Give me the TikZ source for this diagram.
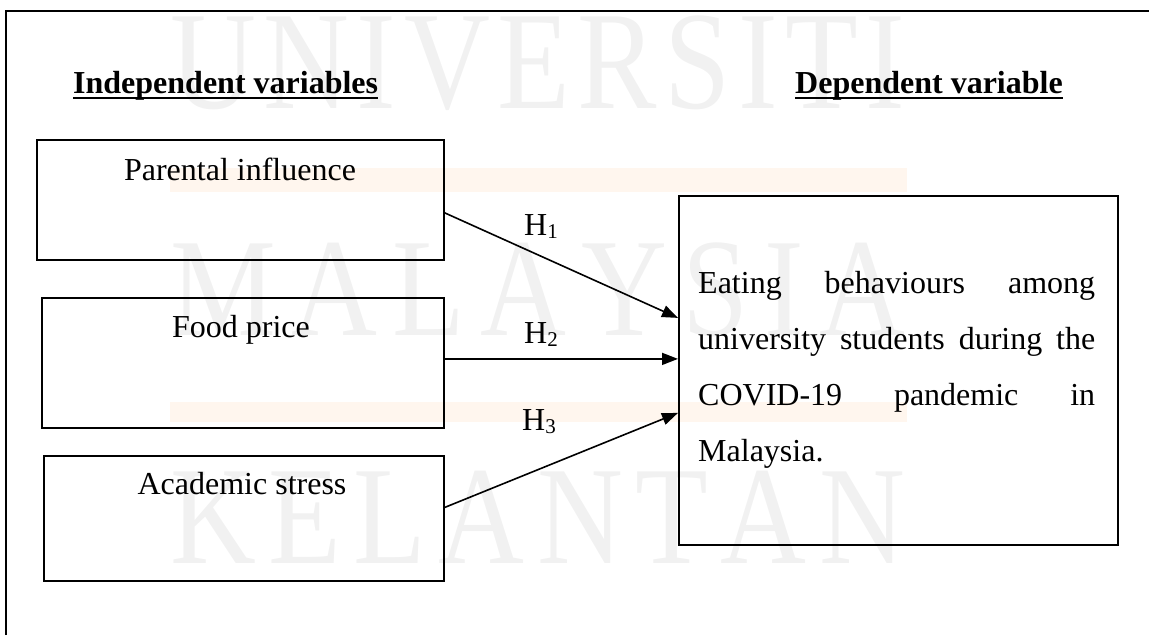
\documentclass[tikz,border=0pt]{standalone}
\usepackage{fontspec}
\setmainfont{Liberation Serif}
\newfontfamily\wmfont{Liberation Serif}[FakeStretch=0.85]
\usetikzlibrary{arrows.meta}
\definecolor{wmgray}{HTML}{F1F1F1}
\definecolor{wmbar}{HTML}{FFF6EE}
\begin{document}
\begin{tikzpicture}[x=1pt,y=-1pt,
  box/.style={draw, line width=1.8pt, inner sep=0pt, anchor=north west},
  lbl/.style={font=\fontsize{32}{38}\selectfont, inner sep=0pt, anchor=base},
  hyp/.style={font=\fontsize{32}{38}\selectfont, inner sep=0pt, anchor=base west},
  hd/.style={font=\fontsize{32}{38}\selectfont\bfseries, inner sep=0pt, anchor=base west},
  uline/.style={line width=2pt},
  arr/.style={line width=1.6pt, -{Triangle[length=16pt,width=12pt]}},
  wmtxt/.style={text=wmgray, font=\wmfont\fontsize{140}{140}\selectfont, inner sep=0pt, anchor=base west},
  frameline/.style={line width=1.8pt}]
\useasboundingbox (0,0) rectangle (1149,635);
% watermark
\fill[wmbar] (170,168) rectangle (907,192);
\fill[wmbar] (170,402) rectangle (907,422);
\node[wmtxt] (w1) at (170,108) {\makebox[735pt]{U\hfill N\hfill I\hfill V\hfill E\hfill R\hfill S\hfill I\hfill T\hfill I}};
\node[wmtxt] (w2) at (170,335) {\makebox[735pt]{M\hfill A\hfill L\hfill A\hfill Y\hfill S\hfill I\hfill A}};
\node[wmtxt] (w3) at (170,563) {\makebox[735pt]{K\hfill E\hfill L\hfill A\hfill N\hfill T\hfill A\hfill N}};
% frame
\coordinate (fbl) at (6,635);
\coordinate (ftl) at (6,11);
\coordinate (ftr) at (1149,11);
\draw[frameline] (fbl) -- (ftl) -- (ftr);
% headings
\node[hd] (hi) at (73,93) {Independent variables};
\draw[uline] ([yshift=-5pt]hi.base west) -- ([yshift=-5pt]hi.base east);
\node[hd] (hdv) at (795,93) {Dependent variable};
\draw[uline] ([yshift=-5pt]hdv.base west) -- ([yshift=-5pt]hdv.base east);
% boxes
\node[box, minimum width=407pt, minimum height=120pt] (p1) at (36,139) {};
\node[box, minimum width=402pt, minimum height=130pt] (p2) at (41,297) {};
\node[box, minimum width=400pt, minimum height=125pt] (p3) at (43,455) {};
\node[box, minimum width=439pt, minimum height=349pt] (dv) at (678,195) {};
\node[lbl] (t1) at (240,180) {Parental influence};
\node[lbl] (t2) at (241,337) {Food price};
\node[lbl] (t3) at (242,494) {Academic stress};
\node[inner sep=0pt, anchor=base west, text width=397pt, align=left,
      font=\fontsize{32}{56}\selectfont] (dt) at (698,293)
  {\makebox[397pt]{Eating\hfill behaviours\hfill among}\\
   \makebox[397pt]{university\hfill students\hfill during\hfill the}\\
   \makebox[397pt]{COVID-19\hfill pandemic\hfill in}\\
   Malaysia.};
% arrows
\coordinate (s1) at ([yshift=-13pt]p1.east);
\coordinate (s2) at ([yshift=4pt]p2.east);
\coordinate (s3) at ([yshift=11pt]p3.east);
\coordinate (e1) at ([yshift=52.5pt]dv.west);
\coordinate (e2) at ([yshift=11.5pt]dv.west);
\coordinate (e3) at ([yshift=-42.5pt]dv.west);
\draw[arr] (s1) -- (e1);
\draw[arr] (s2) -- (e2);
\draw[arr] (s3) -- (e3);
\node[hyp] (h1) at (524,235) {H\raisebox{-3pt}{\fontsize{21}{21}\selectfont 1}};
\node[hyp] (h2) at (524,343) {H\raisebox{-3pt}{\fontsize{21}{21}\selectfont 2}};
\node[hyp] (h3) at (522,430) {H\raisebox{-3pt}{\fontsize{21}{21}\selectfont 3}};
\end{tikzpicture}
\end{document}
